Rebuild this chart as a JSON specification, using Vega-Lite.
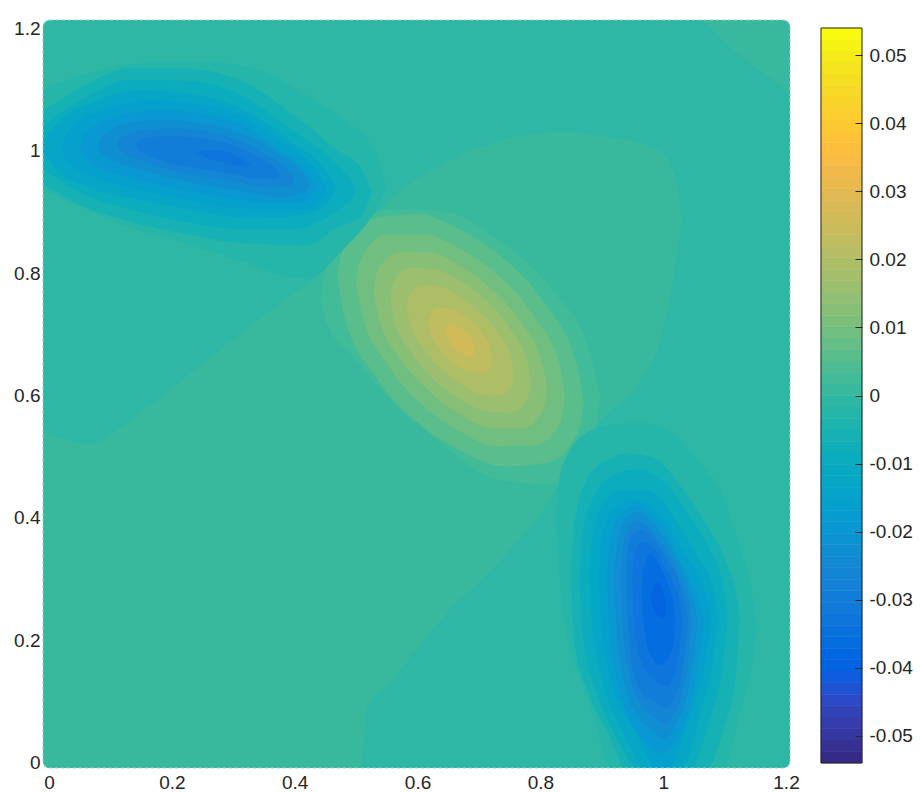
{"$schema":"https://vega.github.io/schema/vega-lite/v6.json","padding":{"left":13,"top":19,"right":0,"bottom":0},"background":"white","spacing":20,"config":{"view":{"stroke":null},"axis":{"labelFont":"Liberation Sans","labelFontSize":19,"labelColor":"#262626","grid":false,"domain":false,"title":null}},
"datasets":{"f":[
{"g":0,"v":0.0008,"x":-0.0098,"y":0.54,"y2":0.002},{"g":0,"v":0.0008,"x":-0.007,"y":0.54,"y2":-0.006},{"g":0,"v":0.0008,"x":0.002,"y":0.537,"y2":-0.0082},{"g":0,"v":0.0008,"x":0.065,"y":0.52,"y2":-0.0082},{"g":0,"v":0.0008,"x":0.13,"y":0.558,"y2":-0.0082},{"g":0,"v":0.0008,"x":0.245,"y":0.648,"y2":-0.0082},{"g":0,"v":0.0008,"x":0.359,"y":0.738,"y2":-0.0082},{"g":0,"v":0.0008,"x":0.456,"y":0.811,"y2":-0.0082},{"g":0,"v":0.0008,"x":0.508,"y":0.862,"y2":-0.0082},{"g":0,"v":0.0008,"x":0.518,"y":0.872,"y2":0.09},{"g":0,"v":0.0008,"x":0.554,"y":0.918,"y2":0.13},{"g":0,"v":0.0008,"x":0.636,"y":0.975,"y2":0.232},{"g":0,"v":0.0008,"x":0.734,"y":1.016,"y2":0.33},{"g":0,"v":0.0008,"x":0.823,"y":1.03,"y2":0.444},{"g":0,"v":0.0008,"x":0.85,"y":1.03,"y2":0.5},{"g":0,"v":0.0008,"x":0.897,"y":1.024,"y2":0.558},{"g":0,"v":0.0008,"x":0.962,"y":1.012,"y2":0.624},{"g":0,"v":0.0008,"x":0.995,"y":0.999,"y2":0.69},{"g":0,"v":0.0008,"x":1.01,"y":0.98,"y2":0.754},{"g":0,"v":0.0008,"x":1.025,"y":0.93,"y2":0.85},{"g":0,"v":0.0008,"x":1.03,"y":0.885,"y2":0.885},
{"g":4,"v":0.0009,"x":1.065,"y":1.2131,"y2":1.2131},{"g":4,"v":0.0009,"x":1.13,"y":1.2131,"y2":1.15},{"g":4,"v":0.0009,"x":1.195,"y":1.2131,"y2":1.1},{"g":4,"v":0.0009,"x":1.2045,"y":1.205,"y2":1.09},
{"g":2,"v":0.0025,"x":0.443,"y":0.76,"y2":0.76},{"g":2,"v":0.0025,"x":0.452,"y":0.815,"y2":0.717},{"g":2,"v":0.0025,"x":0.494,"y":0.873,"y2":0.665},{"g":2,"v":0.0025,"x":0.559,"y":0.904,"y2":0.59},{"g":2,"v":0.0025,"x":0.641,"y":0.901,"y2":0.52},{"g":2,"v":0.0025,"x":0.734,"y":0.852,"y2":0.462},{"g":2,"v":0.0025,"x":0.82,"y":0.771,"y2":0.455},{"g":2,"v":0.0025,"x":0.88,"y":0.673,"y2":0.5},{"g":2,"v":0.0025,"x":0.897,"y":0.6,"y2":0.6},
{"g":2,"v":0.0059,"x":0.469,"y":0.793,"y2":0.793},{"g":2,"v":0.0059,"x":0.48,"y":0.844,"y2":0.732},{"g":2,"v":0.0059,"x":0.53,"y":0.89,"y2":0.634},{"g":2,"v":0.0059,"x":0.6,"y":0.896,"y2":0.556},{"g":2,"v":0.0059,"x":0.67,"y":0.871,"y2":0.51},{"g":2,"v":0.0059,"x":0.74,"y":0.824,"y2":0.484},{"g":2,"v":0.0059,"x":0.81,"y":0.746,"y2":0.49},{"g":2,"v":0.0059,"x":0.86,"y":0.648,"y2":0.536},{"g":2,"v":0.0059,"x":0.871,"y":0.587,"y2":0.587},
{"g":2,"v":0.0093,"x":0.5,"y":0.785,"y2":0.785},{"g":2,"v":0.0093,"x":0.509,"y":0.826,"y2":0.734},{"g":2,"v":0.0093,"x":0.551,"y":0.863,"y2":0.651},{"g":2,"v":0.0093,"x":0.61,"y":0.863,"y2":0.583},{"g":2,"v":0.0093,"x":0.67,"y":0.839,"y2":0.541},{"g":2,"v":0.0093,"x":0.73,"y":0.797,"y2":0.517},{"g":2,"v":0.0093,"x":0.789,"y":0.73,"y2":0.518},{"g":2,"v":0.0093,"x":0.832,"y":0.646,"y2":0.554},{"g":2,"v":0.0093,"x":0.84,"y":0.595,"y2":0.595},
{"g":2,"v":0.0127,"x":0.529,"y":0.773,"y2":0.773},{"g":2,"v":0.0127,"x":0.536,"y":0.806,"y2":0.73},{"g":2,"v":0.0127,"x":0.571,"y":0.834,"y2":0.662},{"g":2,"v":0.0127,"x":0.621,"y":0.833,"y2":0.605},{"g":2,"v":0.0127,"x":0.67,"y":0.811,"y2":0.569},{"g":2,"v":0.0127,"x":0.719,"y":0.775,"y2":0.547},{"g":2,"v":0.0127,"x":0.769,"y":0.718,"y2":0.546},{"g":2,"v":0.0127,"x":0.804,"y":0.65,"y2":0.574},{"g":2,"v":0.0127,"x":0.811,"y":0.607,"y2":0.607},
{"g":2,"v":0.016,"x":0.556,"y":0.76,"y2":0.76},{"g":2,"v":0.016,"x":0.561,"y":0.786,"y2":0.726},{"g":2,"v":0.016,"x":0.59,"y":0.808,"y2":0.67},{"g":2,"v":0.016,"x":0.63,"y":0.805,"y2":0.623},{"g":2,"v":0.016,"x":0.67,"y":0.787,"y2":0.594},{"g":2,"v":0.016,"x":0.71,"y":0.757,"y2":0.575},{"g":2,"v":0.016,"x":0.75,"y":0.71,"y2":0.572},{"g":2,"v":0.016,"x":0.779,"y":0.654,"y2":0.594},{"g":2,"v":0.016,"x":0.784,"y":0.62,"y2":0.62},
{"g":2,"v":0.0194,"x":0.583,"y":0.746,"y2":0.746},{"g":2,"v":0.0194,"x":0.587,"y":0.765,"y2":0.721},{"g":2,"v":0.0194,"x":0.609,"y":0.78,"y2":0.678},{"g":2,"v":0.0194,"x":0.64,"y":0.777,"y2":0.643},{"g":2,"v":0.0194,"x":0.67,"y":0.761,"y2":0.619},{"g":2,"v":0.0194,"x":0.7,"y":0.737,"y2":0.603},{"g":2,"v":0.0194,"x":0.731,"y":0.702,"y2":0.6},{"g":2,"v":0.0194,"x":0.753,"y":0.659,"y2":0.615},{"g":2,"v":0.0194,"x":0.757,"y":0.634,"y2":0.634},
{"g":2,"v":0.0228,"x":0.618,"y":0.72,"y2":0.72},{"g":2,"v":0.0228,"x":0.621,"y":0.733,"y2":0.705},{"g":2,"v":0.0228,"x":0.634,"y":0.743,"y2":0.679},{"g":2,"v":0.0228,"x":0.652,"y":0.742,"y2":0.658},{"g":2,"v":0.0228,"x":0.67,"y":0.735,"y2":0.645},{"g":2,"v":0.0228,"x":0.688,"y":0.722,"y2":0.638},{"g":2,"v":0.0228,"x":0.706,"y":0.701,"y2":0.637},{"g":2,"v":0.0228,"x":0.719,"y":0.675,"y2":0.647},{"g":2,"v":0.0228,"x":0.722,"y":0.66,"y2":0.66},
{"g":2,"v":0.0262,"x":0.645,"y":0.707,"y2":0.707},{"g":2,"v":0.0262,"x":0.652,"y":0.716,"y2":0.688},{"g":2,"v":0.0262,"x":0.67,"y":0.71,"y2":0.67},{"g":2,"v":0.0262,"x":0.688,"y":0.692,"y2":0.664},{"g":2,"v":0.0262,"x":0.695,"y":0.673,"y2":0.673},
{"g":1,"v":-0.0025,"x":-0.01,"y":1.1,"y2":0.936},{"g":1,"v":-0.0025,"x":0.06,"y":1.125,"y2":0.905},{"g":1,"v":-0.0025,"x":0.13,"y":1.14,"y2":0.875},{"g":1,"v":-0.0025,"x":0.22,"y":1.145,"y2":0.85},{"g":1,"v":-0.0025,"x":0.31,"y":1.14,"y2":0.82},{"g":1,"v":-0.0025,"x":0.42,"y":1.09,"y2":0.79},{"g":1,"v":-0.0025,"x":0.48,"y":1.05,"y2":0.84},{"g":1,"v":-0.0025,"x":0.53,"y":1.0,"y2":0.9},{"g":1,"v":-0.0025,"x":0.55,"y":0.94,"y2":0.94},
{"g":1,"v":-0.0059,"x":-0.01,"y":1.065,"y2":0.945},{"g":1,"v":-0.0059,"x":0.06,"y":1.107,"y2":0.907},{"g":1,"v":-0.0059,"x":0.13,"y":1.135,"y2":0.885},{"g":1,"v":-0.0059,"x":0.22,"y":1.134,"y2":0.864},{"g":1,"v":-0.0059,"x":0.31,"y":1.115,"y2":0.849},{"g":1,"v":-0.0059,"x":0.42,"y":1.041,"y2":0.845},{"g":1,"v":-0.0059,"x":0.47,"y":1.0,"y2":0.875},{"g":1,"v":-0.0059,"x":0.505,"y":0.975,"y2":0.89},{"g":1,"v":-0.0059,"x":0.52,"y":0.945,"y2":0.915},{"g":1,"v":-0.0059,"x":0.525,"y":0.93,"y2":0.93},
{"g":1,"v":-0.0093,"x":-0.01,"y":1.04,"y2":0.97},{"g":1,"v":-0.0093,"x":0.06,"y":1.087,"y2":0.927},{"g":1,"v":-0.0093,"x":0.13,"y":1.115,"y2":0.905},{"g":1,"v":-0.0093,"x":0.22,"y":1.114,"y2":0.884},{"g":1,"v":-0.0093,"x":0.31,"y":1.092,"y2":0.872},{"g":1,"v":-0.0093,"x":0.4,"y":1.03,"y2":0.872},{"g":1,"v":-0.0093,"x":0.45,"y":0.995,"y2":0.89},{"g":1,"v":-0.0093,"x":0.48,"y":0.965,"y2":0.91},{"g":1,"v":-0.0093,"x":0.495,"y":0.945,"y2":0.925},{"g":1,"v":-0.0093,"x":0.5,"y":0.935,"y2":0.935},
{"g":1,"v":-0.0127,"x":-0.01,"y":1.013,"y2":0.997},{"g":1,"v":-0.0127,"x":0.01,"y":1.041,"y2":0.971},{"g":1,"v":-0.0127,"x":0.07,"y":1.078,"y2":0.938},{"g":1,"v":-0.0127,"x":0.15,"y":1.099,"y2":0.919},{"g":1,"v":-0.0127,"x":0.24,"y":1.091,"y2":0.901},{"g":1,"v":-0.0127,"x":0.33,"y":1.06,"y2":0.89},{"g":1,"v":-0.0127,"x":0.4,"y":1.01,"y2":0.893},{"g":1,"v":-0.0127,"x":0.44,"y":0.98,"y2":0.905},{"g":1,"v":-0.0127,"x":0.458,"y":0.955,"y2":0.92},{"g":1,"v":-0.0127,"x":0.468,"y":0.938,"y2":0.938},
{"g":1,"v":-0.016,"x":0.02,"y":1.005,"y2":1.005},{"g":1,"v":-0.016,"x":0.031,"y":1.031,"y2":0.981},{"g":1,"v":-0.016,"x":0.087,"y":1.066,"y2":0.952},{"g":1,"v":-0.016,"x":0.165,"y":1.082,"y2":0.932},{"g":1,"v":-0.016,"x":0.243,"y":1.076,"y2":0.916},{"g":1,"v":-0.016,"x":0.32,"y":1.053,"y2":0.905},{"g":1,"v":-0.016,"x":0.38,"y":1.015,"y2":0.905},{"g":1,"v":-0.016,"x":0.425,"y":0.98,"y2":0.905},{"g":1,"v":-0.016,"x":0.443,"y":0.955,"y2":0.92},{"g":1,"v":-0.016,"x":0.452,"y":0.937,"y2":0.937},
{"g":1,"v":-0.0194,"x":0.05,"y":1.006,"y2":1.006},{"g":1,"v":-0.0194,"x":0.06,"y":1.027,"y2":0.987},{"g":1,"v":-0.0194,"x":0.109,"y":1.055,"y2":0.963},{"g":1,"v":-0.0194,"x":0.178,"y":1.066,"y2":0.944},{"g":1,"v":-0.0194,"x":0.248,"y":1.06,"y2":0.93},{"g":1,"v":-0.0194,"x":0.317,"y":1.041,"y2":0.919},{"g":1,"v":-0.0194,"x":0.375,"y":1.0,"y2":0.915},{"g":1,"v":-0.0194,"x":0.415,"y":0.97,"y2":0.915},{"g":1,"v":-0.0194,"x":0.43,"y":0.95,"y2":0.93},{"g":1,"v":-0.0194,"x":0.437,"y":0.94,"y2":0.94},
{"g":1,"v":-0.0228,"x":0.08,"y":1.008,"y2":1.008},{"g":1,"v":-0.0228,"x":0.089,"y":1.024,"y2":0.992},{"g":1,"v":-0.0228,"x":0.132,"y":1.046,"y2":0.974},{"g":1,"v":-0.0228,"x":0.192,"y":1.05,"y2":0.956},{"g":1,"v":-0.0228,"x":0.253,"y":1.044,"y2":0.944},{"g":1,"v":-0.0228,"x":0.313,"y":1.028,"y2":0.934},{"g":1,"v":-0.0228,"x":0.373,"y":0.996,"y2":0.924},{"g":1,"v":-0.0228,"x":0.416,"y":0.959,"y2":0.932},{"g":1,"v":-0.0228,"x":0.425,"y":0.945,"y2":0.945},
{"g":1,"v":-0.0262,"x":0.11,"y":1.009,"y2":1.009},{"g":1,"v":-0.0262,"x":0.117,"y":1.02,"y2":0.998},{"g":1,"v":-0.0262,"x":0.154,"y":1.034,"y2":0.982},{"g":1,"v":-0.0262,"x":0.204,"y":1.036,"y2":0.966},{"g":1,"v":-0.0262,"x":0.255,"y":1.031,"y2":0.957},{"g":1,"v":-0.0262,"x":0.306,"y":1.018,"y2":0.948},{"g":1,"v":-0.0262,"x":0.357,"y":0.992,"y2":0.94},{"g":1,"v":-0.0262,"x":0.393,"y":0.962,"y2":0.943},{"g":1,"v":-0.0262,"x":0.4,"y":0.952,"y2":0.952},
{"g":1,"v":-0.0296,"x":0.14,"y":1.01,"y2":1.01},{"g":1,"v":-0.0296,"x":0.146,"y":1.017,"y2":1.001},{"g":1,"v":-0.0296,"x":0.175,"y":1.023,"y2":0.987},{"g":1,"v":-0.0296,"x":0.216,"y":1.023,"y2":0.975},{"g":1,"v":-0.0296,"x":0.258,"y":1.019,"y2":0.969},{"g":1,"v":-0.0296,"x":0.299,"y":1.009,"y2":0.961},{"g":1,"v":-0.0296,"x":0.34,"y":0.99,"y2":0.954},{"g":1,"v":-0.0296,"x":0.369,"y":0.97,"y2":0.954},{"g":1,"v":-0.0296,"x":0.375,"y":0.96,"y2":0.96},
{"g":1,"v":-0.0329,"x":0.24,"y":0.996,"y2":0.996},{"g":1,"v":-0.0329,"x":0.26,"y":1.0,"y2":0.986},{"g":1,"v":-0.0329,"x":0.285,"y":0.999,"y2":0.981},{"g":1,"v":-0.0329,"x":0.31,"y":0.989,"y2":0.975},{"g":1,"v":-0.0329,"x":0.33,"y":0.975,"y2":0.975},
{"g":3,"v":-0.0025,"x":0.825,"y":0.4,"y2":0.4},{"g":3,"v":-0.0025,"x":0.832,"y":0.47,"y2":0.3},{"g":3,"v":-0.0025,"x":0.845,"y":0.505,"y2":0.2},{"g":3,"v":-0.0025,"x":0.864,"y":0.53,"y2":0.139},{"g":3,"v":-0.0025,"x":0.885,"y":0.545,"y2":0.08},{"g":3,"v":-0.0025,"x":0.916,"y":0.552,"y2":-0.0082},{"g":3,"v":-0.0025,"x":0.96,"y":0.555,"y2":-0.0082},{"g":3,"v":-0.0025,"x":1.016,"y":0.537,"y2":-0.0082},{"g":3,"v":-0.0025,"x":1.05,"y":0.5,"y2":-0.0082},{"g":3,"v":-0.0025,"x":1.097,"y":0.435,"y2":-0.0082},{"g":3,"v":-0.0025,"x":1.125,"y":0.351,"y2":0.085},{"g":3,"v":-0.0025,"x":1.146,"y":0.269,"y2":0.171},{"g":3,"v":-0.0025,"x":1.152,"y":0.22,"y2":0.22},
{"g":3,"v":-0.0059,"x":0.85,"y":0.3,"y2":0.3},{"g":3,"v":-0.0059,"x":0.855,"y":0.39,"y2":0.2},{"g":3,"v":-0.0059,"x":0.88,"y":0.47,"y2":0.11},{"g":3,"v":-0.0059,"x":0.91,"y":0.495,"y2":0.05},{"g":3,"v":-0.0059,"x":0.94,"y":0.505,"y2":-0.0082},{"g":3,"v":-0.0059,"x":0.98,"y":0.5,"y2":-0.0082},{"g":3,"v":-0.0059,"x":1.03,"y":0.45,"y2":-0.0082},{"g":3,"v":-0.0059,"x":1.07,"y":0.39,"y2":-0.0082},{"g":3,"v":-0.0059,"x":1.1,"y":0.335,"y2":0.06},{"g":3,"v":-0.0059,"x":1.118,"y":0.28,"y2":0.14},{"g":3,"v":-0.0059,"x":1.125,"y":0.24,"y2":0.24},
{"g":3,"v":-0.0093,"x":0.864,"y":0.3,"y2":0.3},{"g":3,"v":-0.0093,"x":0.87,"y":0.38,"y2":0.2},{"g":3,"v":-0.0093,"x":0.89,"y":0.44,"y2":0.12},{"g":3,"v":-0.0093,"x":0.92,"y":0.47,"y2":0.05},{"g":3,"v":-0.0093,"x":0.96,"y":0.48,"y2":-0.0082},{"g":3,"v":-0.0093,"x":1.0,"y":0.46,"y2":-0.0082},{"g":3,"v":-0.0093,"x":1.045,"y":0.4,"y2":-0.0082},{"g":3,"v":-0.0093,"x":1.075,"y":0.35,"y2":0.07},{"g":3,"v":-0.0093,"x":1.095,"y":0.3,"y2":0.15},{"g":3,"v":-0.0093,"x":1.105,"y":0.24,"y2":0.24},
{"g":3,"v":-0.0127,"x":0.88,"y":0.3,"y2":0.3},{"g":3,"v":-0.0127,"x":0.885,"y":0.37,"y2":0.22},{"g":3,"v":-0.0127,"x":0.9,"y":0.42,"y2":0.14},{"g":3,"v":-0.0127,"x":0.93,"y":0.445,"y2":0.06},{"g":3,"v":-0.0127,"x":0.975,"y":0.445,"y2":-0.0082},{"g":3,"v":-0.0127,"x":1.03,"y":0.38,"y2":-0.0082},{"g":3,"v":-0.0127,"x":1.06,"y":0.33,"y2":0.08},{"g":3,"v":-0.0127,"x":1.08,"y":0.29,"y2":0.16},{"g":3,"v":-0.0127,"x":1.09,"y":0.24,"y2":0.24},
{"g":3,"v":-0.016,"x":0.895,"y":0.3,"y2":0.3},{"g":3,"v":-0.016,"x":0.9,"y":0.37,"y2":0.22},{"g":3,"v":-0.016,"x":0.92,"y":0.415,"y2":0.12},{"g":3,"v":-0.016,"x":0.955,"y":0.43,"y2":0.05},{"g":3,"v":-0.016,"x":0.99,"y":0.41,"y2":-0.0082},{"g":3,"v":-0.016,"x":1.01,"y":0.385,"y2":-0.0082},{"g":3,"v":-0.016,"x":1.03,"y":0.35,"y2":0.04},{"g":3,"v":-0.016,"x":1.06,"y":0.3,"y2":0.13},{"g":3,"v":-0.016,"x":1.072,"y":0.27,"y2":0.19},{"g":3,"v":-0.016,"x":1.078,"y":0.24,"y2":0.24},
{"g":3,"v":-0.0194,"x":0.908,"y":0.3,"y2":0.3},{"g":3,"v":-0.0194,"x":0.913,"y":0.36,"y2":0.21},{"g":3,"v":-0.0194,"x":0.93,"y":0.405,"y2":0.115},{"g":3,"v":-0.0194,"x":0.955,"y":0.42,"y2":0.055},{"g":3,"v":-0.0194,"x":0.98,"y":0.405,"y2":0.025},{"g":3,"v":-0.0194,"x":1.0,"y":0.385,"y2":0.015},{"g":3,"v":-0.0194,"x":1.02,"y":0.345,"y2":0.035},{"g":3,"v":-0.0194,"x":1.045,"y":0.295,"y2":0.1},{"g":3,"v":-0.0194,"x":1.06,"y":0.26,"y2":0.18},{"g":3,"v":-0.0194,"x":1.066,"y":0.23,"y2":0.23},
{"g":3,"v":-0.0228,"x":0.92,"y":0.3,"y2":0.3},{"g":3,"v":-0.0228,"x":0.925,"y":0.36,"y2":0.21},{"g":3,"v":-0.0228,"x":0.94,"y":0.4,"y2":0.12},{"g":3,"v":-0.0228,"x":0.96,"y":0.41,"y2":0.075},{"g":3,"v":-0.0228,"x":0.98,"y":0.395,"y2":0.055},{"g":3,"v":-0.0228,"x":1.0,"y":0.37,"y2":0.04},{"g":3,"v":-0.0228,"x":1.02,"y":0.335,"y2":0.06},{"g":3,"v":-0.0228,"x":1.04,"y":0.29,"y2":0.115},{"g":3,"v":-0.0228,"x":1.05,"y":0.26,"y2":0.175},{"g":3,"v":-0.0228,"x":1.056,"y":0.23,"y2":0.23},
{"g":3,"v":-0.0262,"x":0.93,"y":0.3,"y2":0.3},{"g":3,"v":-0.0262,"x":0.935,"y":0.355,"y2":0.21},{"g":3,"v":-0.0262,"x":0.945,"y":0.385,"y2":0.145},{"g":3,"v":-0.0262,"x":0.96,"y":0.395,"y2":0.1},{"g":3,"v":-0.0262,"x":0.98,"y":0.38,"y2":0.08},{"g":3,"v":-0.0262,"x":1.0,"y":0.355,"y2":0.065},{"g":3,"v":-0.0262,"x":1.02,"y":0.32,"y2":0.085},{"g":3,"v":-0.0262,"x":1.035,"y":0.285,"y2":0.13},{"g":3,"v":-0.0262,"x":1.043,"y":0.26,"y2":0.185},{"g":3,"v":-0.0262,"x":1.047,"y":0.23,"y2":0.23},
{"g":3,"v":-0.0296,"x":0.94,"y":0.3,"y2":0.3},{"g":3,"v":-0.0296,"x":0.943,"y":0.35,"y2":0.22},{"g":3,"v":-0.0296,"x":0.95,"y":0.375,"y2":0.155},{"g":3,"v":-0.0296,"x":0.965,"y":0.38,"y2":0.115},{"g":3,"v":-0.0296,"x":0.985,"y":0.365,"y2":0.1},{"g":3,"v":-0.0296,"x":1.005,"y":0.335,"y2":0.09},{"g":3,"v":-0.0296,"x":1.02,"y":0.31,"y2":0.11},{"g":3,"v":-0.0296,"x":1.032,"y":0.275,"y2":0.155},{"g":3,"v":-0.0296,"x":1.04,"y":0.23,"y2":0.23},
{"g":3,"v":-0.0329,"x":0.95,"y":0.3,"y2":0.3},{"g":3,"v":-0.0329,"x":0.953,"y":0.34,"y2":0.225},{"g":3,"v":-0.0329,"x":0.965,"y":0.36,"y2":0.165},{"g":3,"v":-0.0329,"x":0.985,"y":0.35,"y2":0.135},{"g":3,"v":-0.0329,"x":1.005,"y":0.315,"y2":0.125},{"g":3,"v":-0.0329,"x":1.02,"y":0.285,"y2":0.15},{"g":3,"v":-0.0329,"x":1.028,"y":0.26,"y2":0.195},{"g":3,"v":-0.0329,"x":1.032,"y":0.23,"y2":0.23},
{"g":3,"v":-0.0363,"x":0.965,"y":0.28,"y2":0.28},{"g":3,"v":-0.0363,"x":0.97,"y":0.325,"y2":0.215},{"g":3,"v":-0.0363,"x":0.98,"y":0.34,"y2":0.175},{"g":3,"v":-0.0363,"x":0.995,"y":0.32,"y2":0.16},{"g":3,"v":-0.0363,"x":1.01,"y":0.285,"y2":0.175},{"g":3,"v":-0.0363,"x":1.017,"y":0.26,"y2":0.2},{"g":3,"v":-0.0363,"x":1.02,"y":0.23,"y2":0.23},
{"g":3,"v":-0.0397,"x":0.98,"y":0.27,"y2":0.27},{"g":3,"v":-0.0397,"x":0.985,"y":0.285,"y2":0.25},{"g":3,"v":-0.0397,"x":0.993,"y":0.295,"y2":0.24},{"g":3,"v":-0.0397,"x":1.0,"y":0.28,"y2":0.235},{"g":3,"v":-0.0397,"x":1.005,"y":0.25,"y2":0.25}
],"c":[
{"lo":-0.054,"hi":-0.05231,"v":-0.05316},{"lo":-0.05231,"hi":-0.05063,"v":-0.05147},{"lo":-0.05063,"hi":-0.04894,"v":-0.04978},{"lo":-0.04894,"hi":-0.04725,"v":-0.04809},{"lo":-0.04725,"hi":-0.04556,"v":-0.04641},{"lo":-0.04556,"hi":-0.04388,"v":-0.04472},{"lo":-0.04388,"hi":-0.04219,"v":-0.04303},{"lo":-0.04219,"hi":-0.0405,"v":-0.04134},{"lo":-0.0405,"hi":-0.03881,"v":-0.03966},{"lo":-0.03881,"hi":-0.03713,"v":-0.03797},{"lo":-0.03713,"hi":-0.03544,"v":-0.03628},{"lo":-0.03544,"hi":-0.03375,"v":-0.03459},{"lo":-0.03375,"hi":-0.03206,"v":-0.03291},{"lo":-0.03206,"hi":-0.03038,"v":-0.03122},{"lo":-0.03038,"hi":-0.02869,"v":-0.02953},{"lo":-0.02869,"hi":-0.027,"v":-0.02784},{"lo":-0.027,"hi":-0.02531,"v":-0.02616},{"lo":-0.02531,"hi":-0.02363,"v":-0.02447},{"lo":-0.02363,"hi":-0.02194,"v":-0.02278},{"lo":-0.02194,"hi":-0.02025,"v":-0.02109},{"lo":-0.02025,"hi":-0.01856,"v":-0.01941},{"lo":-0.01856,"hi":-0.01688,"v":-0.01772},{"lo":-0.01688,"hi":-0.01519,"v":-0.01603},{"lo":-0.01519,"hi":-0.0135,"v":-0.01434},{"lo":-0.0135,"hi":-0.01181,"v":-0.01266},{"lo":-0.01181,"hi":-0.01013,"v":-0.01097},{"lo":-0.01013,"hi":-0.00844,"v":-0.00928},{"lo":-0.00844,"hi":-0.00675,"v":-0.00759},{"lo":-0.00675,"hi":-0.00506,"v":-0.00591},{"lo":-0.00506,"hi":-0.00338,"v":-0.00422},{"lo":-0.00338,"hi":-0.00169,"v":-0.00253},{"lo":-0.00169,"hi":0,"v":-0.00084},{"lo":0,"hi":0.00169,"v":0.00084},{"lo":0.00169,"hi":0.00338,"v":0.00253},{"lo":0.00338,"hi":0.00506,"v":0.00422},{"lo":0.00506,"hi":0.00675,"v":0.00591},{"lo":0.00675,"hi":0.00844,"v":0.00759},{"lo":0.00844,"hi":0.01013,"v":0.00928},{"lo":0.01013,"hi":0.01181,"v":0.01097},{"lo":0.01181,"hi":0.0135,"v":0.01266},{"lo":0.0135,"hi":0.01519,"v":0.01434},{"lo":0.01519,"hi":0.01688,"v":0.01603},{"lo":0.01688,"hi":0.01856,"v":0.01772},{"lo":0.01856,"hi":0.02025,"v":0.01941},{"lo":0.02025,"hi":0.02194,"v":0.02109},{"lo":0.02194,"hi":0.02363,"v":0.02278},{"lo":0.02363,"hi":0.02531,"v":0.02447},{"lo":0.02531,"hi":0.027,"v":0.02616},{"lo":0.027,"hi":0.02869,"v":0.02784},{"lo":0.02869,"hi":0.03038,"v":0.02953},{"lo":0.03038,"hi":0.03206,"v":0.03122},{"lo":0.03206,"hi":0.03375,"v":0.03291},{"lo":0.03375,"hi":0.03544,"v":0.03459},{"lo":0.03544,"hi":0.03713,"v":0.03628},{"lo":0.03713,"hi":0.03881,"v":0.03797},{"lo":0.03881,"hi":0.0405,"v":0.03966},{"lo":0.0405,"hi":0.04219,"v":0.04134},{"lo":0.04219,"hi":0.04388,"v":0.04303},{"lo":0.04388,"hi":0.04556,"v":0.04472},{"lo":0.04556,"hi":0.04725,"v":0.04641},{"lo":0.04725,"hi":0.04894,"v":0.04809},{"lo":0.04894,"hi":0.05063,"v":0.04978},{"lo":0.05063,"hi":0.05231,"v":0.05147},{"lo":0.05231,"hi":0.054,"v":0.05316}
]},
"hconcat":[
{"width":747,"height":748,"layer":[
{"data":{"values":[{"x":-0.0098,"x2":1.2065,"y":-0.0082,"y2":1.2131,"v":-0.0008}]},"mark":{"type":"rect","cornerRadius":7},"encoding":{"x":{"field":"x","type":"quantitative","scale":{"domain":[-0.0098,1.2065],"nice":false,"zero":false},"axis":{"values":[0,0.2,0.4,0.6,0.8,1,1.2],"format":".1~f","ticks":false,"labelPadding":5,"labelFlush":false,"labelOverlap":false}},"x2":{"field":"x2"},"y":{"field":"y","type":"quantitative","scale":{"domain":[-0.0082,1.2131],"nice":false,"zero":false},"axis":{"values":[0,0.2,0.4,0.6,0.8,1,1.2],"format":".1~f","ticks":false,"labelPadding":3,"labelFlush":false,"labelOverlap":false}},"y2":{"field":"y2"},"color":{"field":"v","type":"quantitative","scale":{"type":"quantize","domain":[-0.054,0.054],"range":["#352a87","#363093","#3637a0","#353dad","#3243ba","#2c4ac7","#2053d4","#0f5cdd","#0363e1","#0268e1","#046de0","#0871de","#0d75dc","#1079da","#127dd8","#1481d6","#1485d4","#1389d3","#108ed2","#0c93d2","#0998d1","#079ccf","#06a0cd","#06a4ca","#06a7c6","#07a9c2","#0aacbe","#0faeb9","#15b1b4","#1db3af","#25b5a9","#2eb7a4","#38b99e","#42bb98","#4dbc92","#59bd8c","#65be86","#71bf80","#7cbf7b","#87bf77","#92bf73","#9cbf6f","#a5be6b","#aebe67","#b7bd64","#c0bc60","#c8bc5d","#d1bb59","#d9ba56","#e1b952","#e9b94e","#f1b94a","#f8bb44","#fdbe3d","#ffc337","#fec832","#fcce2e","#fad32a","#f7d826","#f5de21","#f5e41d","#f5eb18","#f6f313","#f9fb0e"]},"legend":null}}},
{"data":{"name":"f"},"mark":{"type":"area","interpolate":"monotone","orient":"vertical","clip":true},"encoding":{"x":{"field":"x","type":"quantitative"},"y":{"field":"y","type":"quantitative"},"y2":{"field":"y2"},"detail":[{"field":"g"},{"field":"v"}],"color":{"field":"v","type":"quantitative","scale":{"type":"quantize","domain":[-0.054,0.054],"range":["#352a87","#363093","#3637a0","#353dad","#3243ba","#2c4ac7","#2053d4","#0f5cdd","#0363e1","#0268e1","#046de0","#0871de","#0d75dc","#1079da","#127dd8","#1481d6","#1485d4","#1389d3","#108ed2","#0c93d2","#0998d1","#079ccf","#06a0cd","#06a4ca","#06a7c6","#07a9c2","#0aacbe","#0faeb9","#15b1b4","#1db3af","#25b5a9","#2eb7a4","#38b99e","#42bb98","#4dbc92","#59bd8c","#65be86","#71bf80","#7cbf7b","#87bf77","#92bf73","#9cbf6f","#a5be6b","#aebe67","#b7bd64","#c0bc60","#c8bc5d","#d1bb59","#d9ba56","#e1b952","#e9b94e","#f1b94a","#f8bb44","#fdbe3d","#ffc337","#fec832","#fcce2e","#fad32a","#f7d826","#f5de21","#f5e41d","#f5eb18","#f6f313","#f9fb0e"]},"legend":null}}},
{"data":{"values":[{"x":-0.0098,"x2":1.2065,"y":-0.0082,"y2":1.2131}]},"mark":{"type":"rect","cornerRadius":7,"fill":null,"stroke":"#8ad6c6","strokeWidth":1,"strokeDash":[3,3]},"encoding":{"x":{"field":"x","type":"quantitative"},"x2":{"field":"x2"},"y":{"field":"y","type":"quantitative"},"y2":{"field":"y2"}}}
]},
{"width":41,"height":748,"layer":[
{"data":{"name":"c"},"mark":{"type":"rect","strokeWidth":0.6},"encoding":{"x":{"datum":0,"type":"quantitative","scale":{"domain":[0,1],"nice":false},"axis":null},"x2":{"datum":1},"y":{"field":"lo","type":"quantitative","scale":{"domain":[-0.054735,0.055176],"nice":false,"zero":false},"axis":{"orient":"right","values":[-0.05,-0.04,-0.03,-0.02,-0.01,0,0.01,0.02,0.03,0.04,0.05],"labelExpr":"replace(format(datum.value,'.2~f'),'−','-')","tickColor":"#262626","tickSize":-7,"tickWidth":1,"labelPadding":14,"zindex":1,"labelFlush":false,"labelOverlap":false}},"y2":{"field":"hi"},"stroke":{"field":"v","type":"quantitative","scale":{"type":"quantize","domain":[-0.054,0.054],"range":["#352a87","#363093","#3637a0","#353dad","#3243ba","#2c4ac7","#2053d4","#0f5cdd","#0363e1","#0268e1","#046de0","#0871de","#0d75dc","#1079da","#127dd8","#1481d6","#1485d4","#1389d3","#108ed2","#0c93d2","#0998d1","#079ccf","#06a0cd","#06a4ca","#06a7c6","#07a9c2","#0aacbe","#0faeb9","#15b1b4","#1db3af","#25b5a9","#2eb7a4","#38b99e","#42bb98","#4dbc92","#59bd8c","#65be86","#71bf80","#7cbf7b","#87bf77","#92bf73","#9cbf6f","#a5be6b","#aebe67","#b7bd64","#c0bc60","#c8bc5d","#d1bb59","#d9ba56","#e1b952","#e9b94e","#f1b94a","#f8bb44","#fdbe3d","#ffc337","#fec832","#fcce2e","#fad32a","#f7d826","#f5de21","#f5e41d","#f5eb18","#f6f313","#f9fb0e"]},"legend":null},"color":{"field":"v","type":"quantitative","scale":{"type":"quantize","domain":[-0.054,0.054],"range":["#352a87","#363093","#3637a0","#353dad","#3243ba","#2c4ac7","#2053d4","#0f5cdd","#0363e1","#0268e1","#046de0","#0871de","#0d75dc","#1079da","#127dd8","#1481d6","#1485d4","#1389d3","#108ed2","#0c93d2","#0998d1","#079ccf","#06a0cd","#06a4ca","#06a7c6","#07a9c2","#0aacbe","#0faeb9","#15b1b4","#1db3af","#25b5a9","#2eb7a4","#38b99e","#42bb98","#4dbc92","#59bd8c","#65be86","#71bf80","#7cbf7b","#87bf77","#92bf73","#9cbf6f","#a5be6b","#aebe67","#b7bd64","#c0bc60","#c8bc5d","#d1bb59","#d9ba56","#e1b952","#e9b94e","#f1b94a","#f8bb44","#fdbe3d","#ffc337","#fec832","#fcce2e","#fad32a","#f7d826","#f5de21","#f5e41d","#f5eb18","#f6f313","#f9fb0e"]},"legend":null}}},
{"data":{"values":[{"lo":-0.054,"hi":0.054}]},"mark":{"type":"rect","fill":null,"stroke":"#262626","strokeWidth":1},"encoding":{"x":{"datum":0,"type":"quantitative"},"x2":{"datum":1},"y":{"field":"lo","type":"quantitative"},"y2":{"field":"hi"}}}
]}
]}
